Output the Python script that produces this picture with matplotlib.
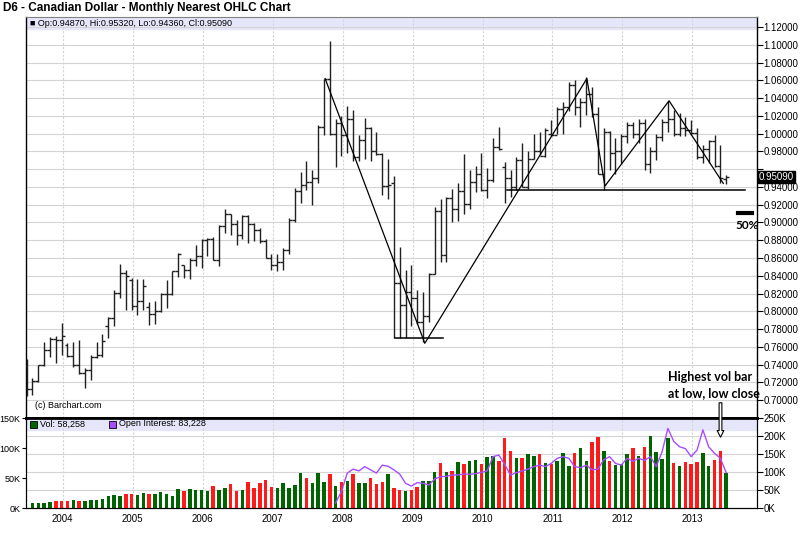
import numpy as np
import matplotlib.pyplot as plt
from matplotlib.patches import Rectangle, FancyArrowPatch
from matplotlib.transforms import blended_transform_factory

plt.rcParams['font.family'] = ['Liberation Sans', 'DejaVu Sans']

# monthly OHLC, Jul 2003 .. Jul 2013
opens = [.738, .712, .721, .739, .757, .769, .768, .762, .750, .740, .731, .734, .749, .751, .784, .793,
         .821, .843, .835, .806, .812, .805, .797, .800, .819, .819, .845, .852, .847, .858, .862, .880,
         .881, .858, .896, .909, .898, .886, .907, .898, .892, .879, .860, .852, .856, .869, .903, .935,
         .942, .946, .950, 1.008, 1.061, 1.000, 1.012, .998, 1.016, .974, .993, 1.006, .980, .977, .941, .944,
         .832, .807, .822, .815, .788, .795, .842, .913, .863, .928, .915, .935, .921, .946, .955, .937,
         .948, .985, .962, .950, .940, .970, .940, .971, .980, .975, 1.000, .998, 1.028, 1.030, 1.055, 1.030,
         1.036, 1.045, 1.022, .955, 1.002, .978, .980, .997, 1.010, 1.000, 1.012, .966, .981, .996, 1.013, 1.016,
         1.000, 1.006, 1.004, 1.001, .974, .983, .992, .964, .9487]
highs = [.746, .725, .740, .766, .771, .772, .787, .764, .766, .768, .736, .751, .766, .774, .794, .824,
         .853, .846, .837, .836, .836, .811, .812, .821, .835, .845, .866, .852, .860, .875, .881, .882,
         .884, .897, .915, .910, .903, .908, .908, .899, .894, .881, .864, .864, .871, .905, .939, .957,
         .969, .959, 1.010, 1.062, 1.104, 1.016, 1.020, 1.031, 1.027, .999, 1.018, 1.008, 1.002, .978, .972, .952,
         .872, .847, .852, .824, .822, .843, .917, .926, .929, .938, .944, .977, .959, .964, .978, .961,
         .995, 1.008, .968, .959, .974, .989, .980, 1.000, 1.002, 1.006, 1.015, 1.030, 1.036, 1.058, 1.060, 1.040,
         1.064, 1.053, 1.030, 1.006, 1.003, .995, 1.000, 1.013, 1.013, 1.017, 1.017, .985, 1.000, 1.016, 1.037, 1.027,
         1.023, 1.019, 1.015, 1.006, .987, .993, .998, .987, .9532]
lows = [.705, .706, .720, .738, .749, .742, .751, .749, .737, .729, .714, .723, .747, .749, .770, .783,
        .815, .802, .802, .796, .802, .785, .786, .799, .804, .818, .839, .838, .836, .851, .849, .862,
        .858, .851, .888, .886, .875, .881, .877, .879, .877, .860, .847, .845, .847, .864, .901, .922,
        .937, .920, .944, .999, .999, .963, .975, .978, .969, .969, .971, .969, .976, .931, .926, .770,
        .770, .770, .784, .786, .765, .788, .842, .856, .856, .900, .902, .910, .915, .934, .935, .927,
        .946, .982, .922, .929, .937, .940, .938, .972, .976, .974, .997, 1.000, 1.000, 1.025, 1.021, 1.008,
        1.021, 1.019, .955, .937, .959, .955, .967, .989, .995, .989, .959, .956, .970, .992, 1.002, .997,
        .997, .997, .998, .972, .967, .967, .962, .944, .9436]
closes = [.712, .721, .739, .757, .769, .768, .772, .750, .740, .731, .734, .749, .751, .767, .793, .821,
          .843, .840, .806, .812, .829, .797, .800, .819, .819, .845, .864, .847, .858, .862, .880, .881,
          .858, .896, .909, .898, .886, .907, .898, .892, .879, .860, .852, .856, .869, .903, .935, .942,
          .946, .950, 1.008, 1.061, 1.000, 1.012, .998, 1.016, .974, .993, 1.006, .980, .977, .941, .942, .832,
          .807, .822, .815, .788, .795, .842, .913, .863, .928, .915, .935, .921, .946, .955, .937, .948,
          .985, .983, .950, .940, .970, .940, .971, .980, .975, 1.004, .998, 1.028, 1.030, 1.055, 1.030, 1.036,
          1.045, 1.022, .955, 1.002, .978, .980, .997, 1.010, 1.000, 1.012, .966, .981, .996, 1.013, 1.016, 1.000,
          1.006, 1.004, 1.001, .974, .983, .992, .964, .950, .9509]

# volume (thousands), Aug 2003 .. Jul 2013
volumes = [8, 8, 8, 9.5, 11.7, 11.7, 11.7, 13, 11.7, 11.7, 13, 13, 15, 20, 21.6, 20,
           23.3, 23.3, 21.6, 25.5, 23.3, 23.3, 26, 23.3, 20.5, 31.7, 28.9, 31.7, 30, 30, 28.9, 36.7,
           30, 32.8, 39.4, 28.9, 30, 43.9, 32.8, 41.1, 46.7, 35, 33.9, 42.2, 33.9, 38.3, 58.9, 49.4,
           42.2, 58.9, 43.9, 56.1, 36.7, 42.8, 45, 56.1, 41.1, 41.1, 49.4, 39.4, 43.9, 56.1, 33.9, 30,
           28.9, 30, 35, 45, 45, 59.4, 74.4, 59.4, 62.2, 77.2, 72.8, 78.9, 80.6, 72.8, 85, 86.1,
           78.9, 116, 95.6, 83.9, 83.9, 89.4, 86.7, 89.4, 74.4, 72.8, 78.9, 92.2, 70.6, 92.2, 99.4, 78.3,
           110.6, 117.8, 95, 78.3, 71.7, 72.8, 89.4, 99.4, 86.7, 101.1, 120.6, 92.8, 81.7, 116.7, 74.4, 70.6,
           76.7, 72.8, 76.7, 91.7, 70, 80.6, 94.4, 58.3]
# bar colour per month: g = up (green), r = down (red)
vol_dir = ['g', 'g', 'g', 'g', 'r', 'r', 'r', 'g', 'r', 'g', 'g', 'g', 'g', 'g', 'g', 'g',
           'r', 'r', 'g', 'g', 'r', 'g', 'g', 'g', 'g', 'g', 'r', 'g', 'g', 'g', 'g', 'r',
           'g', 'g', 'r', 'r', 'g', 'r', 'r', 'r', 'r', 'r', 'g', 'g', 'g', 'g', 'g', 'r',
           'g', 'g', 'g', 'r', 'g', 'r', 'g', 'r', 'g', 'g', 'r', 'r', 'r', 'g', 'r',
           'r', 'g', 'r', 'r', 'g', 'g', 'g', 'r', 'g', 'r', 'g', 'r', 'g', 'g', 'r', 'g',
           'g', 'r', 'r', 'r', 'g', 'r', 'g', 'g', 'r', 'g', 'r', 'g', 'g', 'g', 'r', 'g',
           'g', 'r', 'r', 'g', 'r', 'g', 'g', 'g', 'r', 'g', 'r', 'g', 'g', 'g', 'g', 'r',
           'g', 'r', 'r', 'r', 'g', 'g', 'r', 'r', 'g']

# open interest (thousands), Dec 2007 .. Jul 2013
open_int = [14, 46, 97, 108, 103, 115, 106, 97, 119, 116, 106, 94, 68.5, 61, 70.4, 68.5,
            64, 80.6, 87, 88, 91.7, 91.7, 94.4, 93.5, 95.4, 99, 103, 142.6, 147, 121, 91.7, 98,
            103, 108, 115, 119, 115, 124, 138, 142.6, 138, 115, 112, 119, 106, 108, 134, 142.6,
            124, 119, 138, 129.6, 138, 132, 142.6, 115, 156, 221, 185, 170, 165, 142.6, 161, 217,
            170, 152, 138, 98.7]

years = ['2004', '2005', '2006', '2007', '2008', '2009', '2010', '2011', '2012', '2013']
# hand-drawn trend lines (month index, price)
trend_x = [51.2, 68.3, 96.1, 99.2, 110.2, 119.5]
trend_y = [1.062, 0.764, 1.062, 0.941, 1.037, 0.944]
support_x, support_y = [82.4, 123.2], 0.9366
low_x, low_y = [63.2, 71.4], 0.770

W, H = 800, 544


def box(l, t, r, b):
    return [l / W, 1 - b / H, (r - l) / W, (b - t) / H]


def fp(x, y):
    return x / W, 1 - y / H


fig = plt.figure(figsize=(8, 5.44), dpi=100)
ax = fig.add_axes(box(25.5, 17, 756.5, 418))
axv = fig.add_axes(box(25.5, 418, 756.5, 508))

x = np.arange(len(closes))
xv = np.arange(1, len(volumes) + 1)
xo = np.arange(len(closes) - len(open_int), len(closes))
year_pos = [6.2 + 12 * k for k in range(len(years))]
grid_c = '#d4d4d4'

# ---- price panel
ax.set_xlim(-0.2, 125.2)
ax.set_ylim(0.6799, 1.1313)
ax.add_patch(Rectangle((0, 1 - 12 / 401), 1, 12 / 401, transform=ax.transAxes,
                       color='#e6e6fa', zorder=0))
pticks = np.arange(0.70, 1.1201, 0.02)
for t in pticks:
    ax.axhline(t, color=grid_c, lw=0.8, zorder=1)
for p in year_pos:
    ax.axvline(p, color=grid_c, lw=0.8, ls=(0, (2, 1.5)), zorder=1)

bar_c = '#202020'
ax.vlines(x, lows, highs, color=bar_c, lw=1, zorder=3)
ax.hlines(opens, x - 0.5, x, color=bar_c, lw=1, zorder=3)
ax.hlines(closes, x, x + 0.5, color=bar_c, lw=1, zorder=3)

ax.plot(trend_x, trend_y, color='black', lw=0.9, zorder=4)
ax.plot(support_x, [support_y] * 2, color='black', lw=1.1, zorder=4)
ax.plot(low_x, [low_y] * 2, color='black', lw=1.1, zorder=4)
ax.plot([122.0, 124.4], [0.9103, 0.9103], color='black', lw=3, zorder=4, clip_on=False)
ax.text(123.6, 0.897, '50%', fontsize=8.5, fontweight='bold', ha='center', va='center',
        family=['Lato', 'DejaVu Sans'], zorder=5, clip_on=False)

ax.yaxis.tick_right()
ax.set_yticks(pticks)
ax.set_yticklabels(['' if abs(t - 0.96) < 1e-6 else '%.5f' % t for t in pticks])
ax.tick_params(axis='y', direction='out', length=4, width=0.8, labelsize=7, pad=1)
ax.set_xticks([])
for s in ['left', 'right']:
    ax.spines[s].set_linewidth(1)
ax.spines['top'].set_color('#808080')
ax.spines['bottom'].set_linewidth(2)

tr = blended_transform_factory(ax.transAxes, ax.transData)
ax.text(1.0035, closes[-1], '%.5f' % closes[-1], transform=tr, color='white', fontsize=7,
        va='center', ha='left', zorder=6,
        bbox=dict(boxstyle='square,pad=0.12', fc='black', ec='black'))

# ---- volume panel
axv.set_xlim(-0.2, 125.2)
axv.set_ylim(0, 150)
axv.add_patch(Rectangle((0, 1 - 12 / 90), 1, 12 / 90, transform=axv.transAxes,
                        color='#e6e6fa', zorder=0))
for k in range(1, 5):
    axv.axhline(30 * k, color=grid_c, lw=0.8, zorder=1)
for p in year_pos:
    axv.axvline(p, color=grid_c, lw=0.8, ls=(0, (2, 1.5)), zorder=1)
cols = ['#006400' if c == 'g' else '#ff1a1a' for c in vol_dir]
axv.bar(xv, volumes, width=0.6, color=cols, zorder=3)
axv.set_yticks([0, 50, 100, 150])
axv.set_yticklabels(['0K', '50K', '100K', '150K'])
axv.tick_params(axis='y', direction='out', length=3, width=0.8, labelsize=6.5, pad=0.5)
axv.set_xticks(year_pos)
axv.set_xticklabels(years)
axv.tick_params(axis='x', length=0, labelsize=7, pad=4)
axv.spines['top'].set_linewidth(2)

axo = axv.twinx()
axo.set_ylim(0, 250)
axo.plot(xo, open_int, color='#a64dff', lw=1, zorder=4)
axo.set_yticks(np.arange(0, 251, 50))
axo.set_yticklabels(['%dK' % v for v in range(0, 251, 50)])
axo.tick_params(axis='y', direction='out', length=4, width=0.8, labelsize=7, pad=1)
axo.spines['top'].set_visible(False)

# ---- texts
fig.text(*fp(3, 8), 'D6 - Canadian Dollar - Monthly Nearest OHLC Chart', fontsize=8.5,
         fontweight='bold', va='center')
fig.text(*fp(30, 23), '\u25a0 Op:0.94870, Hi:0.95320, Lo:0.94360, Cl:0.95090', fontsize=6.5,
         va='center')
fig.text(*fp(35, 406), '(c) Barchart.com', fontsize=6.5, va='center')


def legend_sq(px, py, color):
    fig.patches.append(Rectangle(fp(px, py + 3.5), 7 / W, 7 / H, transform=fig.transFigure,
                                 fc=color, ec='black', lw=0.6))


legend_sq(30, 424, '#006400')
fig.text(*fp(40, 424), 'Vol: 58,258', fontsize=6.5, va='center')
legend_sq(109, 424, '#a64dff')
fig.text(*fp(119, 424), 'Open Interest: 83,228', fontsize=6.5, va='center')

fig.text(*fp(668, 377), 'Highest vol bar', fontsize=9, fontweight='bold', va='center',
         family=['Lato', 'DejaVu Sans'])
fig.text(*fp(668, 393), 'at low, low close', fontsize=9, fontweight='bold', va='center',
         family=['Lato', 'DejaVu Sans'])
fig.patches.append(FancyArrowPatch(fp(720.5, 400), fp(720.5, 440), transform=fig.transFigure,
                                   arrowstyle='simple,head_width=0.6,head_length=0.6,tail_width=0.25',
                                   mutation_scale=8, fc='white', ec='black', lw=0.8))

fig.savefig('out.png', dpi=100)
